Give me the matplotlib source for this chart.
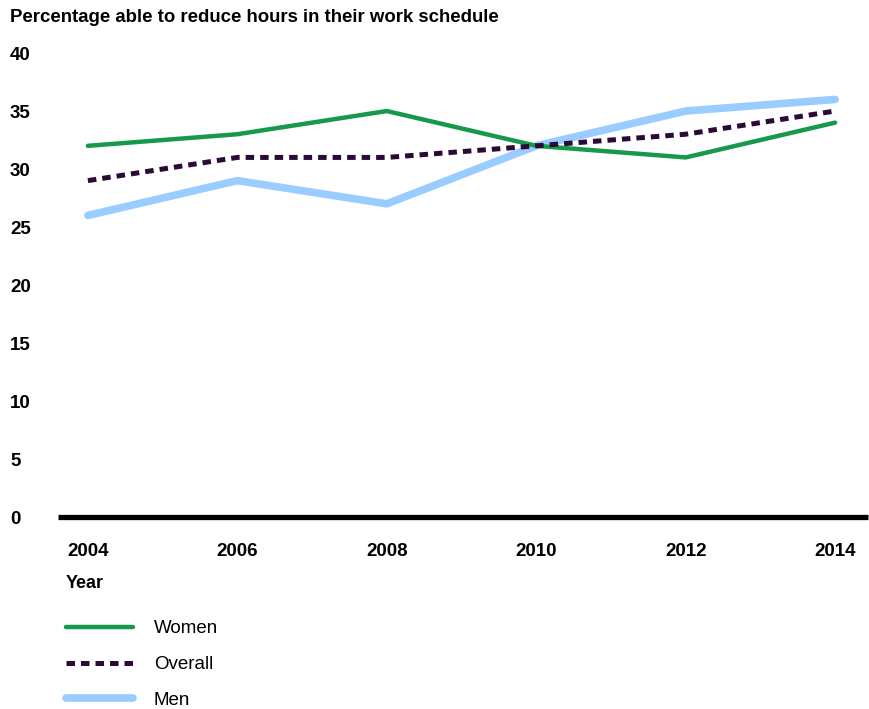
import matplotlib.pyplot as plt

plt.rcParams['font.family'] = ['Liberation Sans', 'DejaVu Sans']

# Data
years = [2004, 2006, 2008, 2010, 2012, 2014]
women = [32, 33, 35, 32, 31, 34]
overall = [29, 31, 31, 32, 33, 35]
men = [26, 29, 27, 32, 35, 36]

fig = plt.figure(figsize=(8.7, 7.09), dpi=100)
ax = fig.add_axes([0.0667, 0.2708, 0.931, 0.6544])

ax.plot(years, men, color='#99ccff', lw=5.5, solid_capstyle='round', label='Men', zorder=2)
ax.plot(years, women, color='#16994a', lw=3.2, solid_capstyle='round', label='Women', zorder=3)
ax.plot(years, overall, color='#2b0a35', lw=3.6, dashes=(1.7, 1.2), label='Overall', zorder=4)

ax.set_xlim(2003.6, 2014.44)
ax.set_ylim(0, 40)
ax.set_xticks(years)
ax.set_yticks(range(0, 41, 5))

for s in ['top', 'right', 'left']:
    ax.spines[s].set_visible(False)
ax.spines['bottom'].set_linewidth(3.8)
ax.spines['bottom'].set_capstyle('butt')
ax.tick_params(length=0, labelsize=13.5)
ax.tick_params(axis='x', pad=19)
ax.tick_params(axis='y', pad=34.5)
for lab in ax.get_xticklabels() + ax.get_yticklabels():
    lab.set_fontweight('bold')
for lab in ax.get_yticklabels():
    lab.set_horizontalalignment('left')

fig.text(0.011, 0.975, 'Percentage able to reduce hours in their work schedule',
         fontsize=13.4, fontweight='bold', va='center')
fig.text(0.075, 0.177, 'Year', fontsize=13, fontweight='bold', va='center')

h, l = ax.get_legend_handles_labels()
order = [1, 2, 0]
fig.legend([h[i] for i in order], [l[i] for i in order], loc='upper left',
           bbox_to_anchor=(0.067, 0.136), frameon=False, fontsize=13.5,
           handlelength=3.6, handletextpad=1.1, labelspacing=1.0, borderaxespad=0)

fig.savefig('out.png', dpi=100)
